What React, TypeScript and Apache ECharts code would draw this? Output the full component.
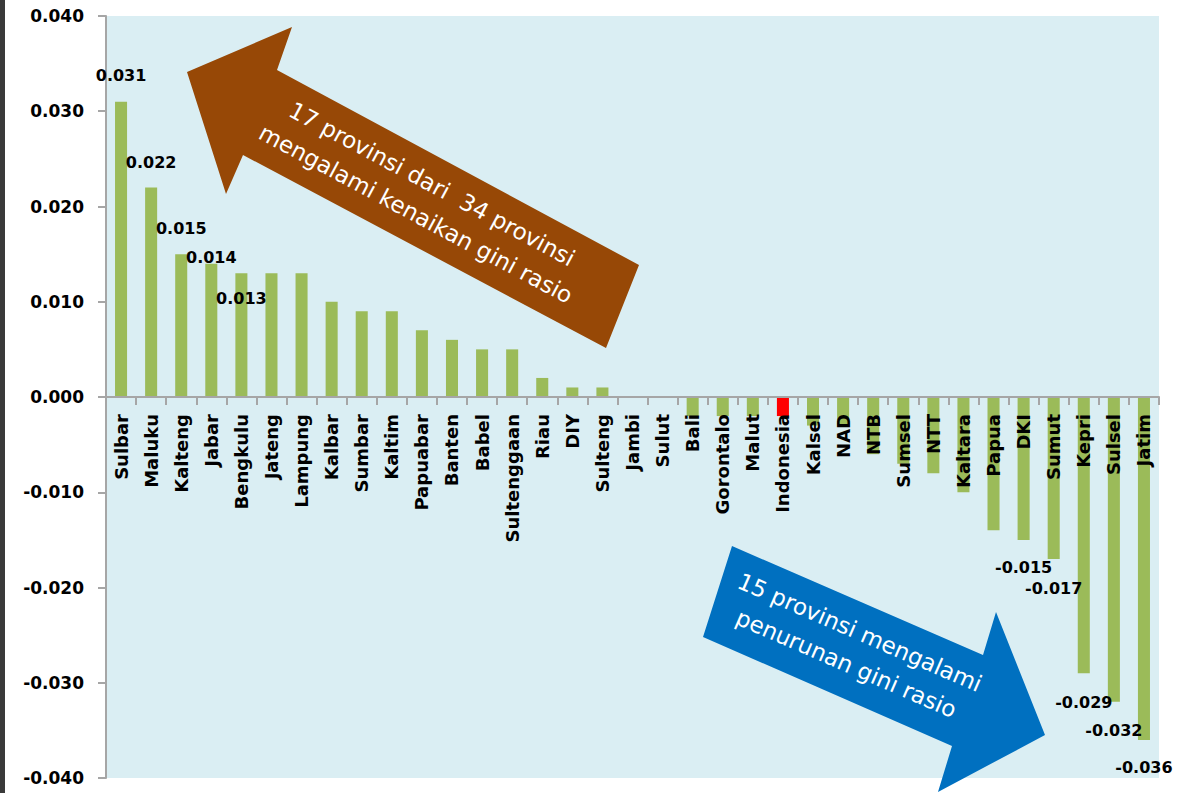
import React, { useEffect, useRef } from "react";
import * as echarts from "echarts";

// ---- Data ----
const categories = [
  "Sulbar", "Maluku", "Kalteng", "Jabar", "Bengkulu", "Jateng", "Lampung", "Kalbar",
  "Sumbar", "Kaltim", "Papuabar", "Banten", "Babel", "Sultenggaan", "Riau", "DIY",
  "Sulteng", "Jambi", "Sulut", "Bali", "Gorontalo", "Malut", "Indonesia", "Kalsel",
  "NAD", "NTB", "Sumsel", "NTT", "Kaltara", "Papua", "DKI", "Sumut", "Kepri", "Sulsel", "Jatim",
];
const values = [
  0.031, 0.022, 0.015, 0.014, 0.013, 0.013, 0.013, 0.010,
  0.009, 0.009, 0.007, 0.006, 0.005, 0.005, 0.002, 0.001,
  0.001, 0.0, 0.0, -0.002, -0.002, -0.002, -0.002, -0.003,
  -0.003, -0.006, -0.007, -0.008, -0.010, -0.014, -0.015, -0.017, -0.029, -0.032, -0.036,
];
const highlightCategory = "Indonesia";
const labelledCategories = ["Sulbar", "Maluku", "Kalteng", "Jabar", "Bengkulu", "DKI", "Sumut", "Kepri", "Sulsel", "Jatim"];
const yMin = -0.04;
const yMax = 0.04;
const yInterval = 0.01;
const upArrowText = ["17 provinsi dari  34 provinsi", "mengalami kenaikan gini rasio"];
const downArrowText = ["15 provinsi mengalami", "penurunan gini rasio"];

// ---- Styling (not data) ----
const labelShift: Record<string, number> = {
  Sulbar: -26, Maluku: -25, Kalteng: -26, Jabar: -6, Bengkulu: 25,
  DKI: 28, Sumut: 30, Kepri: 29, Sulsel: 29, Jatim: 28,
};
const GREEN = "#9BBB59";
const RED = "#FF0000";
const BROWN = "#974806";
const BLUE = "#0070C0";
const FONT = "DejaVu Sans";
const GRID_TOP = 16;
const GRID_BOTTOM = 15;
const HEIGHT = 793;

export default function App() {
  const ref = useRef<HTMLDivElement>(null);
  useEffect(() => {
    if (!ref.current) return;
    const chart = echarts.init(ref.current, null, { renderer: "svg" });

    const data = values.map((v, i) => {
      const name = categories[i];
      const item: any = {
        value: v,
        itemStyle: { color: name === highlightCategory ? RED : GREEN },
      };
      if (labelledCategories.includes(name)) {
        item.label = {
          show: true,
          position: v >= 0 ? "top" : "bottom",
          distance: 0,
          verticalAlign: "middle",
          align: "center",
          offset: [0, labelShift[name] || 0],
          formatter: (p: any) => Number(p.value).toFixed(3),
          fontFamily: FONT,
          fontWeight: "bold",
          fontSize: 16,
          color: "#000",
        };
      }
      return item;
    });

    // distance from the grid bottom to the zero line, so the category axis sits at 0
    const plotH = HEIGHT - GRID_TOP - GRID_BOTTOM;
    const zeroOffset = -plotH * ((0 - yMin) / (yMax - yMin));

    chart.setOption({
      animation: false,
      backgroundColor: "#ffffff",
      grid: {
        left: 106,
        right: 22,
        top: GRID_TOP,
        bottom: GRID_BOTTOM,
        show: true,
        backgroundColor: "#DAEEF3",
        borderWidth: 0,
        containLabel: false,
        outerBoundsMode: "none",
      },
      xAxis: {
        type: "category",
        data: categories,
        z: 10,
        offset: zeroOffset,
        axisLine: { onZero: false, lineStyle: { color: "#A6A6A6", width: 2 } },
        axisTick: { show: true, length: 8, lineStyle: { color: "#A6A6A6", width: 2 } },
        axisLabel: {
          interval: 0,
          rotate: 90,
          margin: 17,
          fontFamily: FONT,
          fontWeight: "bold",
          fontSize: 18,
          color: "#000",
        },
        splitLine: { show: false },
      },
      yAxis: {
        type: "value",
        min: yMin,
        max: yMax,
        interval: yInterval,
        axisLine: { show: true, lineStyle: { color: "#A6A6A6", width: 2 } },
        axisTick: { show: true, length: 8, lineStyle: { color: "#A6A6A6", width: 2 } },
        axisLabel: {
          margin: 22,
          formatter: (v: number) => v.toFixed(3),
          fontFamily: FONT,
          fontWeight: "bold",
          fontSize: 17,
          color: "#000",
        },
        splitLine: { show: false },
      },
      series: [
        {
          type: "bar",
          data,
          barWidth: "40%",
          label: { show: false },
        },
      ],
      graphic: [
        { type: "rect", left: 0, top: 0, shape: { width: 5, height: HEIGHT }, style: { fill: "#3a3a3a" } },
        {
          type: "polygon",
          z: 100,
          shape: {
            points: [[187, 72], [292, 27], [277, 70], [639, 265], [606, 348], [243, 155], [226, 194]],
          },
          style: { fill: BROWN },
        },
        {
          type: "text",
          z: 101,
          x: 424,
          y: 199,
          rotation: (-28.2 * Math.PI) / 180,
          style: {
            text: upArrowText.join("\n"),
            fill: "#fff",
            font: `23px "${FONT}"`,
            align: "center",
            verticalAlign: "middle",
            lineHeight: 34,
          },
        },
        {
          type: "polygon",
          z: 100,
          shape: {
            points: [[732, 546], [983, 655], [996, 612], [1045, 735], [938, 792], [952, 746], [703, 637]],
          },
          style: { fill: BLUE },
        },
        {
          type: "text",
          z: 101,
          x: 853,
          y: 648,
          rotation: (-23.5 * Math.PI) / 180,
          style: {
            text: downArrowText.join("\n"),
            fill: "#fff",
            font: `23px "${FONT}"`,
            align: "center",
            verticalAlign: "middle",
            lineHeight: 34,
          },
        },
      ],
    });
    return () => chart.dispose();
  }, []);

  return (
    <div
      ref={ref}
      style={{ position: "fixed", left: 0, top: 0, width: 1181, height: HEIGHT, background: "#fff" }}
    />
  );
}
